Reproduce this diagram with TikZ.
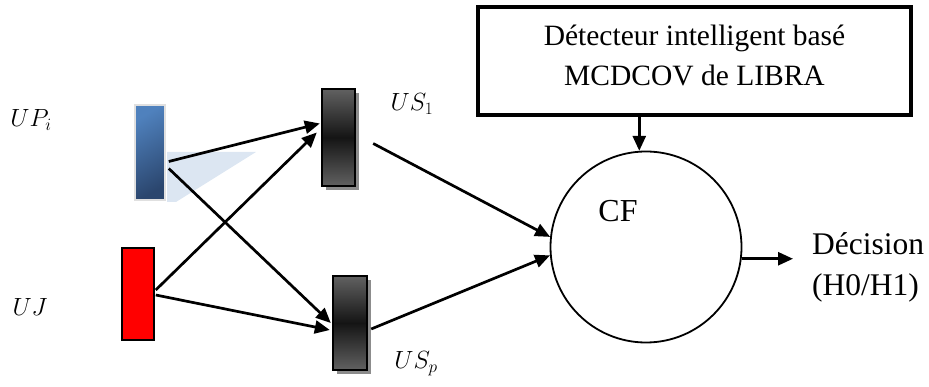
\documentclass[tikz,border=0pt]{standalone}
\usepackage{fontspec}
\setmainfont{Liberation Serif}
\usetikzlibrary{arrows.meta,shadows}
\definecolor{upblue}{HTML}{4F81BD}
\definecolor{updark}{HTML}{2B466E}
\definecolor{refl}{HTML}{DCE6F2}
\begin{document}
\begin{tikzpicture}[x=1pt,y=-1pt,
  conn/.style={line width=2.7pt,-{Triangle[length=15pt,width=13pt]}},
  usbox/.style={draw=black,line width=2.4pt,minimum width=33pt,minimum height=97pt,inner sep=0pt,
    top color=black!62,bottom color=black!62,middle color=black!92,
    drop shadow={shadow xshift=4pt,shadow yshift=-4pt,fill=black!45,opacity=1}},
  lbl/.style={font=\fontsize{27}{30}\selectfont,inner sep=0pt},
  txt/.style={font=\fontsize{29.5}{40}\selectfont,inner sep=0pt}]
\useasboundingbox (0,0) rectangle (929,387);
% reflection of the blue bar
\fill[refl] (167,152) -- (256,152) -- (176,202) -- (167,202) -- cycle;
% sources
\node[draw=black!12,line width=1.5pt,minimum width=30pt,minimum height=95pt,inner sep=0pt,
  shading=axis,top color=upblue,bottom color=updark,shading angle=30] (up) at (150,152.5) {};
\node[draw=black,line width=1.5pt,fill=red,minimum width=32pt,minimum height=92pt,inner sep=0pt] (uj) at (138,294) {};
% secondary users
\node[usbox] (us1) at (338.5,137.5) {};
\node[usbox,minimum width=34pt,minimum height=94pt] (usp) at (350,323) {};
% fusion centre
\node[circle,draw=black,line width=1.8pt,minimum size=191pt,inner sep=0pt] (cf) at (646,247) {};
\node[txt,font=\fontsize{32}{36}\selectfont] (cft) at (618,211) {CF};
% detector box
\node[draw=black,line width=4.5pt,minimum width=433pt,minimum height=108pt,inner sep=0pt] (det) at (694.5,61) {};
\node[txt,align=center] (dett) at (694.5,55) {Détecteur intelligent basé\\MCDCOV de LIBRA};
% decision
\node[txt,font=\fontsize{31.5}{41}\selectfont,align=left,anchor=west] (dec) at (812,267) {Décision\\(H0/H1)};
% labels
\node[lbl] (lup) at (31,120) {$UP_i$};
\node[lbl] (luj) at (30,307) {$UJ$};
\node[lbl] (lus1) at (412,104) {$US_1$};
\node[lbl] (lusp) at (416,364) {$US_p$};
% connectors
\draw[conn] ([shift={(3,9)}]up.east) -- ([shift={(-1,-14)}]us1.west);
\draw[conn] ([shift={(3,16)}]up.east) -- ([shift={(-1,0)}]usp.west);
\draw[conn] ([shift={(1,-4)}]uj.east) -- ([shift={(-4,-5)}]us1.west);
\draw[conn] ([shift={(1,1)}]uj.east) -- ([shift={(-2,7)}]usp.west);
\draw[conn] ([shift={(17,6)}]us1.east) -- (cf.174);
\draw[conn] ([shift={(3,6)}]usp.east) -- (cf.185);
\draw[conn] (cf.94 |- det.south) -- (cf.94);
\draw[conn,shorten >=19pt] (cf.353) -- (cf.353 -| dec.west);
\end{tikzpicture}
\end{document}
